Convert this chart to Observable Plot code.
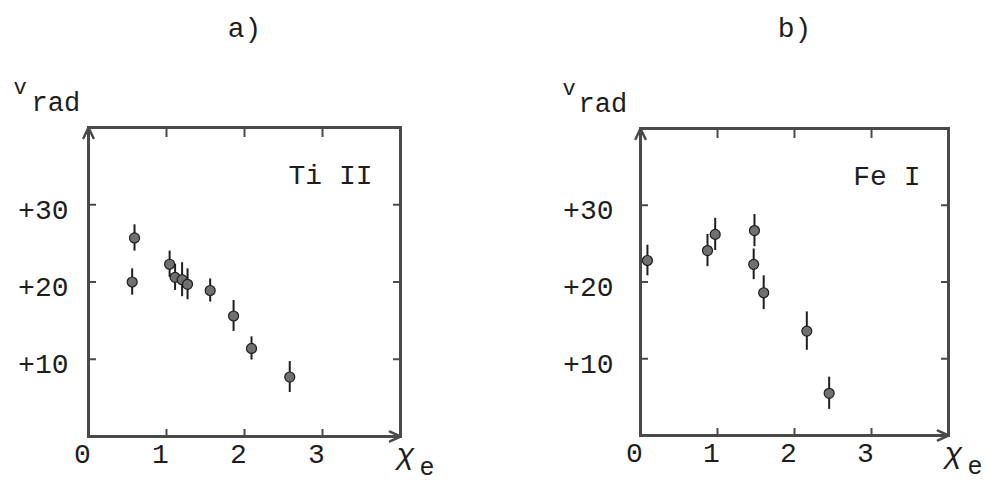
<!DOCTYPE html>
<html>
<head>
<meta charset="utf-8">
<script src="https://cdn.jsdelivr.net/npm/d3@7"></script>
<script src="https://cdn.jsdelivr.net/npm/@observablehq/plot@0.6"></script>
<style>
  html, body { margin: 0; padding: 0; background: #fff; }
  #chart { width: 989px; height: 482px; display: flex; }
  #chart svg { display: block; }
</style>
</head>
<body>
<div id="chart"></div>
<script>
// Radial velocity against excitation potential, two ions.
const xDomain = [0, 4];
const yDomain = [0, 40];
const xTicks = [1, 2, 3];
const xTickLabels = [0, 1, 2, 3];
const yTicks = [10, 20, 30];

// Panel a: Ti II
const tiChi = [0.59, 0.56, 1.04, 1.11, 1.20, 1.27, 1.56, 1.86, 2.09, 2.58];
const tiVrad = [25.7, 20.0, 22.3, 20.6, 20.3, 19.7, 18.9, 15.6, 11.4, 7.7];
const tiErr = [1.7, 1.7, 1.7, 1.7, 2.2, 2.0, 1.5, 2.0, 1.5, 2.0];

// Panel b: Fe I
const feChi = [0.09, 0.87, 0.97, 1.48, 1.47, 1.60, 2.16, 2.45];
const feVrad = [22.8, 24.1, 26.2, 26.7, 22.3, 18.6, 13.6, 5.5];
const feErr = [2.0, 2.1, 2.1, 2.1, 2.0, 2.2, 2.5, 2.1];

const FONT = "'Liberation Mono', 'Courier New', monospace";
const INK = "#1e1e1e";
const LINE = "#4a4a4a";
const noLabel = () => "";

function rows(xs, ys, es) {
  return xs.map((x, i) => ({x, y: ys[i], e: es[i]}));
}

function panel({data, title, ion, width, marginLeft, marginRight, marginTop, marginBottom, yPad, vx, radx}) {
  const axisArrows = [
    {x1: xDomain[0], y1: yDomain[0], x2: xDomain[0], y2: yDomain[1]},
    {x1: xDomain[0], y1: yDomain[0], x2: xDomain[1], y2: yDomain[0]}
  ];
  return Plot.plot({
    width, height: 482,
    marginLeft, marginRight, marginTop, marginBottom,
    x: {domain: xDomain},
    y: {domain: yDomain},
    style: {fontFamily: FONT, color: INK, background: "transparent"},
    marks: [
      Plot.frame({stroke: LINE, strokeWidth: 3}),
      Plot.arrow(axisArrows, {x1: "x1", y1: "y1", x2: "x2", y2: "y2",
        stroke: LINE, strokeWidth: 2.5, headLength: 7, headAngle: 50}),
      // inward ticks on all four sides
      Plot.axisX(xTicks, {anchor: "bottom", tickSize: -7, tickFormat: noLabel, label: null, stroke: LINE, strokeWidth: 2}),
      Plot.axisX(xTicks, {anchor: "top", tickSize: -9, tickFormat: noLabel, label: null, stroke: LINE, strokeWidth: 2}),
      Plot.axisY(yTicks, {anchor: "left", tickSize: -8, tickFormat: noLabel, label: null, stroke: LINE, strokeWidth: 2}),
      Plot.axisY(yTicks, {anchor: "right", tickSize: -8, tickFormat: noLabel, label: null, stroke: LINE, strokeWidth: 2}),
      // tick labels
      Plot.axisX(xTickLabels, {anchor: "bottom", tickSize: 0, tickPadding: 7, dx: -6,
        fontSize: 28, label: null, fill: INK}),
      Plot.axisY(yTicks, {anchor: "left", tickSize: 0, tickPadding: yPad, dy: 5,
        tickFormat: d => "+" + d, fontSize: 28, label: null, fill: INK}),
      // axis titles
      Plot.text(["v"], {frameAnchor: "top-left", textAnchor: "start", lineAnchor: "bottom",
        dx: vx - marginLeft, dy: -34, fontSize: 22, fill: INK}),
      Plot.text(["rad"], {frameAnchor: "top-left", textAnchor: "start", lineAnchor: "bottom",
        dx: radx - marginLeft, dy: -17, fontSize: 27, fill: INK}),
      Plot.text(["\u03c7"], {frameAnchor: "bottom-right", textAnchor: "start", lineAnchor: "top",
        dx: -4, dy: 6, fontSize: 30, fontStyle: "italic", fill: INK}),
      Plot.text(["e"], {frameAnchor: "bottom-right", textAnchor: "start", lineAnchor: "top",
        dx: 19, dy: 21, fontSize: 25, fill: INK}),
      // panel title and ion label
      Plot.text([title], {frameAnchor: "top", lineAnchor: "bottom", dy: -marginTop + 36,
        fontSize: 28, fill: INK}),
      Plot.text([ion], {frameAnchor: "top-right", textAnchor: "end", lineAnchor: "top",
        dx: -28, dy: 37, fontSize: 28, fill: INK}),
      // error bars and measurements
      Plot.ruleX(data, {x: "x", y1: d => d.y - d.e, y2: d => d.y + d.e, stroke: INK, strokeWidth: 2}),
      Plot.dot(data, {x: "x", y: "y", r: 5, fill: "#707070", stroke: INK, strokeWidth: 1.2})
    ]
  });
}

const chart = document.getElementById("chart");
chart.append(panel({
  data: rows(tiChi, tiVrad, tiErr), title: "a)", ion: "Ti II",
  width: 494, marginLeft: 88, marginRight: 94, marginTop: 127, marginBottom: 46, yPad: 20,
  vx: 13, radx: 31
}));
chart.append(panel({
  data: rows(feChi, feVrad, feErr), title: "b)", ion: "Fe I",
  width: 495, marginLeft: 146, marginRight: 41, marginTop: 128, marginBottom: 47, yPad: 27,
  vx: 68, radx: 84
}));
</script>
</body>
</html>
